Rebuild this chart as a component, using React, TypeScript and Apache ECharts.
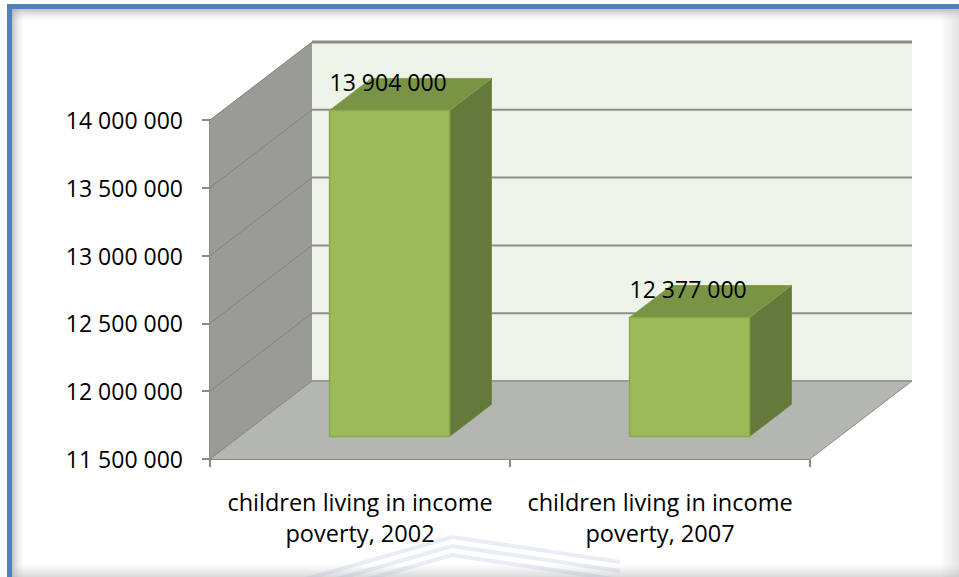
import React, { useEffect, useRef } from "react";
import * as echarts from "echarts";

const categories = [
  "children living in income\npoverty, 2002",
  "children living in income\npoverty, 2007",
];
const values = [13904000, 12377000];
const yMin = 11500000;
const yMax = 14000000;
const yStep = 500000;
const yTicks = [11500000, 12000000, 12500000, 13000000, 13500000, 14000000];

// oblique 3D projection of the depth axis (pixels)
const DX = 102;
const DY = -78;
const F0 = 0.29;
const F1 = 0.7;
const BAR_W = 0.4;

const FONT = "Open Sans";

function fmt(v: number): string {
  return String(Math.round(v)).replace(/\B(?=(\d{3})+(?!\d))/g, " ");
}

function wallsRender(params: any, api: any) {
  const band = api.size([1, 0])[0];
  const c0 = api.coord([0, yMin]);
  const c1 = api.coord([categories.length - 1, yMin]);
  const left = c0[0] - band / 2;
  const right = c1[0] + band / 2;
  const yBot = c0[1];
  const yTop = api.coord([0, yMax])[1];
  const children: any[] = [];
  children.push({
    type: "polygon",
    shape: {
      points: [
        [left, yTop],
        [left + DX, yTop + DY],
        [left + DX, yBot + DY],
        [left, yBot],
      ],
    },
    style: { fill: "#9a9b97" },
  });
  children.push({
    type: "rect",
    shape: { x: left + DX, y: yTop + DY, width: right - left, height: yBot - yTop },
    style: { fill: "#eef3e9" },
  });
  children.push({
    type: "polygon",
    shape: {
      points: [
        [left, yBot],
        [right, yBot],
        [right + DX, yBot + DY],
        [left + DX, yBot + DY],
      ],
    },
    style: { fill: "#b4b6b1" },
  });
  yTicks.forEach((t, i) => {
    const y = api.coord([0, t])[1];
    children.push({
      type: "line",
      shape: { x1: left, y1: y, x2: left + DX, y2: y + DY },
      style: { stroke: "#80817d", lineWidth: 1 },
    });
    children.push({
      type: "line",
      shape: { x1: left + DX, y1: y + DY, x2: right + DX, y2: y + DY },
      style: { stroke: i === 0 ? "#9a9b98" : "#8c8c8c", lineWidth: i === yTicks.length - 1 ? 3 : 2 },
    });
  });
  children.push({
    type: "line",
    shape: { x1: right, y1: yBot, x2: right + DX, y2: yBot + DY },
    style: { stroke: "#8c8d89", lineWidth: 1 },
  });
  return { type: "group", children };
}

function barsRender(params: any, api: any) {
  const idx = api.value(0);
  const v = api.value(1);
  const band = api.size([1, 0])[0];
  const c = api.coord([idx, v]);
  const b = api.coord([idx, yMin]);
  const w = band * BAR_W;
  const x0 = c[0] - w / 2 + F0 * DX;
  const x1 = x0 + w;
  const yT = c[1] + F0 * DY;
  const yB = b[1] + F0 * DY;
  const ddx = (F1 - F0) * DX;
  const ddy = (F1 - F0) * DY;
  return {
    type: "group",
    children: [
      {
        type: "polygon",
        shape: {
          points: [
            [x1, yT],
            [x1 + ddx, yT + ddy],
            [x1 + ddx, yB + ddy],
            [x1, yB],
          ],
        },
        style: { fill: "#64793a", stroke: "#6f8740", lineWidth: 1 },
      },
      {
        type: "polygon",
        shape: {
          points: [
            [x0, yT],
            [x1, yT],
            [x1 + ddx, yT + ddy],
            [x0 + ddx, yT + ddy],
          ],
        },
        style: { fill: "#7a9446", stroke: "#86a04e", lineWidth: 1 },
      },
      {
        type: "rect",
        shape: { x: x0, y: yT, width: w, height: yB - yT },
        style: { fill: "#9bbb59", stroke: "#89a94c", lineWidth: 1.5 },
      },
      {
        type: "text",
        x: x0,
        y: yT - 28,
        style: {
          text: fmt(v),
          fill: "#000000",
          font: `23px "${FONT}"`,
          align: "left",
          verticalAlign: "middle",
        },
      },
    ],
  };
}

export default function App() {
  const ref = useRef<HTMLDivElement>(null);
  useEffect(() => {
    if (!ref.current) return;
    const chart = echarts.init(ref.current, undefined, { renderer: "svg" });
    const wm = (dy: number) => ({
      type: "polyline",
      shape: {
        points: [
          [285, 585 + dy],
          [452, 537 + dy],
          [620, 562 + dy],
        ],
      },
      style: { stroke: "rgba(150,158,210,0.2)", lineWidth: 4, fill: null },
      silent: true,
    });
    chart.setOption({
      animation: false,
      backgroundColor: "#ffffff",
      textStyle: { fontFamily: FONT },
      grid: { left: 210, right: 149, top: 120, bottom: 118, containLabel: false },
      xAxis: {
        type: "category",
        data: categories,
        boundaryGap: true,
        axisLine: { show: true, lineStyle: { color: "#8a8a8a", width: 2 } },
        axisTick: { show: true, length: 8, interval: 0, lineStyle: { color: "#8a8a8a", width: 2 } },
        axisLabel: {
          interval: 0,
          margin: 27,
          fontSize: 23.5,
          lineHeight: 31,
          color: "#000000",
          fontFamily: FONT,
          align: "center",
        },
        splitLine: { show: false },
      },
      yAxis: {
        type: "value",
        min: yMin,
        max: yMax,
        interval: yStep,
        axisLine: { show: true, lineStyle: { color: "#8a8a8a", width: 2 } },
        axisTick: { show: true, length: 8, lineStyle: { color: "#8a8a8a", width: 2 } },
        axisLabel: {
          margin: 27,
          fontSize: 23,
          color: "#000000",
          fontFamily: FONT,
          formatter: (v: number) => fmt(v),
        },
        splitLine: { show: false },
      },
      graphic: [
        {
          type: "rect",
          shape: { x: 12, y: 9, width: 947, height: 14 },
          style: {
            fill: new echarts.graphic.LinearGradient(0, 0, 0, 1, [
              { offset: 0, color: "rgba(150,150,150,0.6)" },
              { offset: 1, color: "rgba(255,255,255,0)" },
            ]),
          },
          silent: true,
        },
        {
          type: "rect",
          shape: { x: 12, y: 9, width: 14, height: 568 },
          style: {
            fill: new echarts.graphic.LinearGradient(0, 0, 1, 0, [
              { offset: 0, color: "rgba(150,150,150,0.6)" },
              { offset: 1, color: "rgba(255,255,255,0)" },
            ]),
          },
          silent: true,
        },
        {
          type: "rect",
          shape: { x: 940, y: 9, width: 19, height: 568 },
          style: {
            fill: new echarts.graphic.LinearGradient(0, 0, 1, 0, [
              { offset: 0, color: "rgba(200,200,200,0)" },
              { offset: 1, color: "rgba(200,200,200,0.5)" },
            ]),
          },
          silent: true,
        },
        {
          type: "rect",
          shape: { x: 12, y: 564, width: 947, height: 13 },
          style: {
            fill: new echarts.graphic.LinearGradient(0, 0, 0, 1, [
              { offset: 0, color: "rgba(200,200,200,0)" },
              { offset: 1, color: "rgba(185,185,185,0.55)" },
            ]),
          },
          silent: true,
        },
        wm(0),
        wm(9),
        wm(18),
        { type: "rect", shape: { x: 7, y: 4, width: 960, height: 5 }, style: { fill: "#4f81bd" }, silent: true },
        { type: "rect", shape: { x: 7, y: 4, width: 5, height: 580 }, style: { fill: "#4f81bd" }, silent: true },
      ],
      series: [
        {
          type: "custom",
          renderItem: wallsRender,
          data: [[0, yMin]],
          clip: false,
          silent: true,
          z: 1,
        },
        {
          type: "custom",
          renderItem: barsRender,
          data: values.map((v, i) => [i, v]),
          clip: false,
          z: 2,
        },
      ],
    });
    return () => chart.dispose();
  }, []);
  return (
    <div
      ref={ref}
      style={{ position: "absolute", left: 0, top: 0, width: 959, height: 577, background: "#fff" }}
    />
  );
}
